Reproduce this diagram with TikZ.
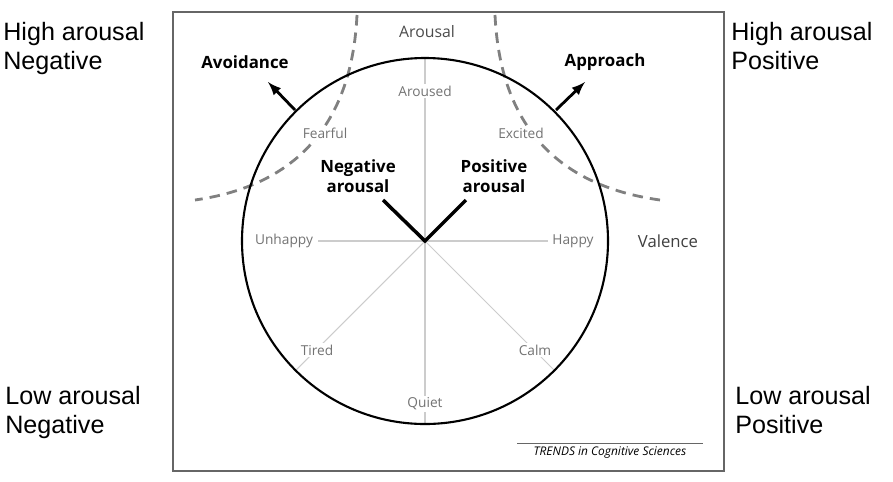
\documentclass[tikz,border=0pt]{standalone}
\usepackage{fontspec}
\usetikzlibrary{calc}
\setmainfont{Open Sans}
\newfontfamily\cornerfont{Liberation Sans}
\begin{document}
\begin{tikzpicture}[x=0.02cm,y=-0.02cm,
  corner/.style={font=\cornerfont\fontsize{14.3}{16.5}\selectfont,align=left,anchor=north west,inner sep=0pt},
  lab/.style={font=\fontsize{7.8}{9}\selectfont,text=black!55,fill=white,inner sep=1pt},
  bold/.style={font=\bfseries\fontsize{9.6}{11.5}\selectfont,align=center,inner sep=1pt},
  axis/.style={draw=black!20,line width=0.6pt},
  dashcurve/.style={draw=black!50,line width=1.6pt,dash pattern=on 6pt off 4pt}]
\useasboundingbox (0,0) rectangle (893,481);
\draw[black!60,line width=0.7pt] (173,12) rectangle (724,471);
\coordinate (c) at (425,241);
% dashed curves
\draw[dashcurve] (357,15) .. controls (352,120) and (300,185) .. (195,200);
\draw[dashcurve] (495,15) .. controls (500,120) and (552,185) .. (660,200);
% axes
\draw[axis] (425,58) -- (425,424);
\draw[axis] (318,241) -- (548,241);
\draw[axis] (c) -- ($(c)+(-130,130)$);
\draw[axis] (c) -- ($(c)+(130,130)$);
\draw[line width=1.2pt] (c) circle (183);
\node[lab] at (425,91) {Aroused};
\node[lab] at (325,133) {Fearful};
\node[lab] at (521,133) {Excited};
\node[lab] at (284,241) {Unhappy};
\node[lab] at (573,241) {Happy};
\node[lab] at (317,350) {Tired};
\node[lab] at (535,350) {Calm};
\node[lab] at (425,404) {Quiet};
\node[lab,text=black!70,font=\fontsize{9}{10}\selectfont] at (427,32) {Arousal};
\node[lab,text=black!75,font=\fontsize{9.5}{11}\selectfont] at (668,241) {Valence};
\node[bold] (na) at (358,176) {Negative\\arousal};
\node[bold] (pa) at (494,176) {Positive\\arousal};
\draw[line width=2pt] (383,200) -- (c) -- (466,200);
\node[bold] (av) at (245,62) {Avoidance};
\node[bold] (ap) at (605,62) {Approach};
\draw[line width=1.6pt,-latex] (295,110) -- (268,82);
\draw[line width=1.6pt,-latex] (556,110) -- (585,82);
\node[corner] at (3,22) {High arousal\\Negative};
\node[corner] at (731,22) {High arousal\\Positive};
\node[corner] at (5,386) {Low arousal\\Negative};
\node[corner] at (735,386) {Low arousal\\Positive};
\draw[black!60,line width=0.5pt] (517,443) -- (703,443);
\node[font=\itshape\fontsize{6.8}{8}\selectfont,inner sep=0pt] at (610,453) {TRENDS in Cognitive Sciences};
\end{tikzpicture}
\end{document}
